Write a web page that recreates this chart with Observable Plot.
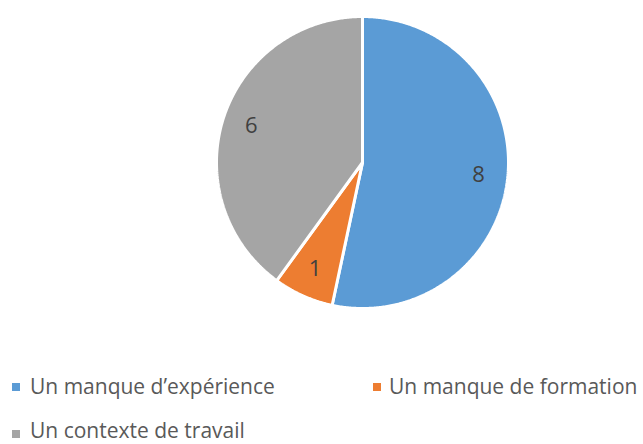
<!DOCTYPE html>
<html>
<head>
<meta charset="utf-8">
<script src="https://cdn.jsdelivr.net/npm/d3@7"></script>
<script src="https://cdn.jsdelivr.net/npm/@observablehq/plot@0.6"></script>
<style>
  html, body { margin: 0; padding: 0; background: #fff; }
  #wrap { position: relative; width: 643px; height: 444px; font-family: "Open Sans", sans-serif; }
  #chart { position: absolute; left: 0; top: 0; }
  .leg { position: absolute; font-size: 21px; line-height: 21px; color: #595959; white-space: nowrap; }
  .sw { position: absolute; width: 8px; height: 8px; }
</style>
</head>
<body>
<div id="wrap">
  <div id="chart"></div>
</div>
<script>
const categories = ["Un manque d’expérience", "Un manque de formation", "Un contexte de travail"];
const values = [8, 1, 6];
const colors = ["#5B9BD5", "#ED7D31", "#A5A5A5"];

const arcs = d3.pie().sort(null).value(d => d)(values);

// polygon outline of each slice, in unit-radius coordinates (y up)
const outline = [];
arcs.forEach((a, i) => {
  const key = categories[i];
  outline.push({key, x: 0, y: 0});
  const n = Math.max(2, Math.ceil((a.endAngle - a.startAngle) / (Math.PI / 360)));
  for (let k = 0; k <= n; k++) {
    const t = a.startAngle + (a.endAngle - a.startAngle) * k / n;
    outline.push({key, x: Math.sin(t), y: Math.cos(t)});
  }
  outline.push({key, x: 0, y: 0});
});

const labels = arcs.map((a, i) => {
  const m = (a.startAngle + a.endAngle) / 2;
  return {key: categories[i], value: values[i], x: 0.8 * Math.sin(m), y: 0.8 * Math.cos(m)};
});

const chart = Plot.plot({
  width: 643,
  height: 330,
  marginLeft: 216,
  marginRight: 135,
  marginTop: 16,
  marginBottom: 22,
  x: {domain: [-1, 1], axis: null},
  y: {domain: [-1, 1], axis: null},
  color: {domain: categories, range: colors},
  style: {background: "#fff"},
  marks: [
    Plot.line(outline, {x: "x", y: "y", z: "key", fill: "key", stroke: "white", strokeWidth: 3, strokeLinejoin: "miter"}),
    Plot.text(labels, {x: "x", y: "y", text: d => String(d.value), fill: "#404040", fontSize: 22, fontFamily: "Open Sans"})
  ]
});
document.getElementById("chart").appendChild(chart);

// legend
const wrap = document.getElementById("wrap");
const legPos = [[12, 383, 30, 376], [373, 383, 389, 376], [12, 430, 30, 420]];
categories.forEach((c, i) => {
  const [sx, sy, tx, ty] = legPos[i];
  const sw = document.createElement("div");
  sw.className = "sw";
  sw.style.left = sx + "px"; sw.style.top = sy + "px"; sw.style.background = colors[i];
  wrap.appendChild(sw);
  const t = document.createElement("div");
  t.className = "leg";
  t.style.left = tx + "px"; t.style.top = ty + "px";
  t.textContent = c;
  wrap.appendChild(t);
});
</script>
</body>
</html>
